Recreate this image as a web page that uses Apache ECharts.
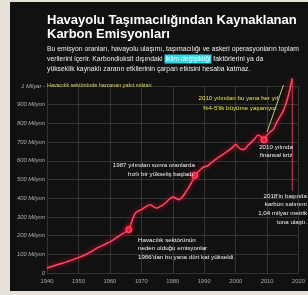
<!DOCTYPE html>
<html lang="tr">
<head>
    <meta charset="UTF-8">
    <title>Havayolu Karbon Emisyonları</title>
    <script src="https://cdn.jsdelivr.net/npm/echarts@6/dist/echarts.min.js"></script>
</head>
<style>
    body{
        margin: 0;
        background-color: #e6e2da;
    }
    #chart{
        width: 308px;
        height: 295px;
    }
</style>
<body>
    <div id="chart"></div>
    <script>
        // yıllar ve milyon ton CO2 (resimden okunan tahmini değerler)
        var years=[1940,1942,1944,1946,1948,1950,1952,1954,1956,1958,1960,1962,1964,1966,1967,1968,1969,
            1970,1971,1972,1973,1974,1975,1976,1977,1978,1979,1980,1981,1982,1983,1984,1985,1986,1987,1988,1989,
            1990,1991,1992,1993,1994,1995,1996,1997,1998,1999,2000,2001,2002,2003,2004,2005,2006,2007,2008,2009,
            2010,2011,2012,2013,2014,2015,2016,2017,2018];
        var emissions=[27,37,48,58,70,82,96,114,134,150,166,188,210,232,278,318,332,
            338,350,360,365,352,347,356,366,380,396,406,400,392,405,430,455,485,522,540,556,
            568,572,586,600,612,624,634,646,658,672,688,670,660,664,684,700,716,736,730,712,
            738,754,768,804,834,862,905,965,1040];
        var markedYears=[1966,1987,2009];
        var yTicks=[0,100,200,300,400,500,600,700,800,900,1000];
        var yTickLabels=['0','100 Milyon','200 Milyon','300 Milyon','400 Milyon','500 Milyon',
            '600 Milyon','700 Milyon','800 Milyon','900 Milyon','1 Milyar -'];
        var xTicks=[1940,1950,1960,1970,1980,1990,2000,2010,2020];
        // büyüme oku: başlangıç ve bitiş (yıl, milyon ton)
        var trendArrow=[[2010,755],[2015.2,1005]];
        var leaderBottom=440;

        var title1='Havayolu Taşımacılığından Kaynaklanan';
        var title2='Karbon Emisyonları';

        var lineData=[];
        for(var i=0;i<years.length;i++)
        {
            var item={value:[years[i],emissions[i]]};
            if(markedYears.indexOf(years[i])>=0)
            {
                item.symbol='circle';
                item.symbolSize=6;
                item.itemStyle={color:'#e8283c',borderColor:'#ff6078',borderWidth:1,shadowBlur:4,shadowColor:'#ff0030'};
            }
            lineData.push(item);
        }
        var lastYear=years[years.length-1];
        var lastVal=emissions[emissions.length-1];

        var font='Liberation Sans';
        // y: ilk satırın ortası
        var txt=function(x,y,s,opt){
            opt=opt||{};
            var lh=opt.lh||9;
            return {
                type:'text',
                z:50,
                style:{
                    x:x,y:y-lh/2,text:s,
                    fill:opt.fill||'#f2f2f2',
                    font:(opt.weight||'normal')+' '+(opt.size||6.2)+'px "'+font+'"',
                    textAlign:opt.align||'left',
                    textVerticalAlign:'top',
                    lineHeight:lh
                }
            };
        };

        var chart=echarts.init(document.getElementById('chart'));
        chart.setOption({
            animation:false,
            backgroundColor:'#e6e2da',
            grid:{left:47,right:0,top:86,bottom:22},
            xAxis:{
                type:'value',
                min:1940,max:2020,interval:10,
                axisLine:{show:false},
                axisTick:{show:false},
                splitLine:{lineStyle:{color:'#3c3c3c',width:0.8}},
                axisLabel:{
                    color:'#a8a8a8',fontSize:5.8,fontFamily:font,margin:5,
                    formatter:function(v){return xTicks.indexOf(v)>=0?String(v):'';}
                }
            },
            yAxis:{
                type:'value',
                min:0,max:1000,interval:100,
                axisLine:{show:false},
                axisTick:{show:false},
                splitLine:{lineStyle:{color:'#3c3c3c',width:0.8}},
                axisLabel:{
                    color:'#b0b0b0',fontSize:5.8,fontStyle:'italic',fontFamily:font,margin:2,
                    formatter:function(v){
                        var k=yTicks.indexOf(v);
                        return k>=0?yTickLabels[k]:'';
                    }
                }
            },
            series:[{
                type:'line',
                data:lineData,
                clip:false,
                smooth:0.2,
                symbol:'none',
                z:5,
                lineStyle:{color:'#ff4a66',width:1.5,shadowBlur:5,shadowColor:'#ff0030'}
            },{
                // yeşil büyüme oku
                type:'line',
                data:trendArrow,
                clip:false,
                symbol:'none',
                z:4,
                lineStyle:{color:'#c9e57a',width:0.9},
                markPoint:{
                    symbol:'triangle',symbolSize:[4,5],symbolRotate:-20,
                    itemStyle:{color:'#f4f4f4'},label:{show:false},
                    data:[{coord:trendArrow[1]}]
                }
            },{
                // 2018 işaret çizgisi
                type:'line',
                data:[[lastYear,lastVal],[lastYear,leaderBottom]],
                clip:false,
                symbol:'none',
                z:4,
                lineStyle:{color:'#ff4a66',width:0.8}
            }],
            graphic:[
                {type:'rect',z:-100,shape:{x:10,y:2,width:298,height:289},style:{fill:'#111111'}},
                txt(47,20,title1,{size:13,weight:'bold',fill:'#ffffff',lh:14}),
                txt(47,34,title2,{size:13,weight:'bold',fill:'#ffffff',lh:14}),
                {
                    type:'text',z:50,
                    style:{
                        x:47,y:44,
                        text:'Bu emisyon oranları, havayolu ulaşımı, taşımacılığı ve askeri operasyonların toplam\n'+
                             'verilerini içerir. Karbondioksit dışındaki {hl|iklim değişikliği} faktörlerini ya da\n'+
                             'yükseklik kaynaklı zararın etkilerinin çarpan etkisini hesaba katmaz.',
                        fill:'#ececec',
                        font:'normal 6.8px "'+font+'"',
                        textVerticalAlign:'top',
                        lineHeight:10,
                        rich:{hl:{backgroundColor:'#2fd6e4',fill:'#e8ffff',padding:[1,1],lineHeight:10,font:'normal 6.8px "'+font+'"'}}
                    }
                },
                txt(47,86,'Havacılık sektöründe harcanan yakıt miktarı',{fill:'#d6d65a',size:5.4}),
                txt(278,98,'2010 yılından bu yana her yıl\n%4-5\'lik büyüme yaşanıyor.',{fill:'#e4e450',align:'right',lh:10}),
                txt(276,147,'2010 yılında\nfinansal kriz',{align:'center',lh:8.5}),
                txt(195,165,'1987 yılından sonra oranlarda\nhızlı bir yükseliş başladı.',{align:'right'}),
                txt(307,196,'2018\'in başında\nkarbon salınımı\n1,04 milyar metrik\ntona ulaştı.',{align:'right',lh:8.7}),
                txt(138,240,'Havacılık sektörünün\nneden olduğu emisyonlar\n1966\'dan bu yana dört kat yükseldi.',{lh:8.5})
            ]
        });
    </script>
</body>
</html>
